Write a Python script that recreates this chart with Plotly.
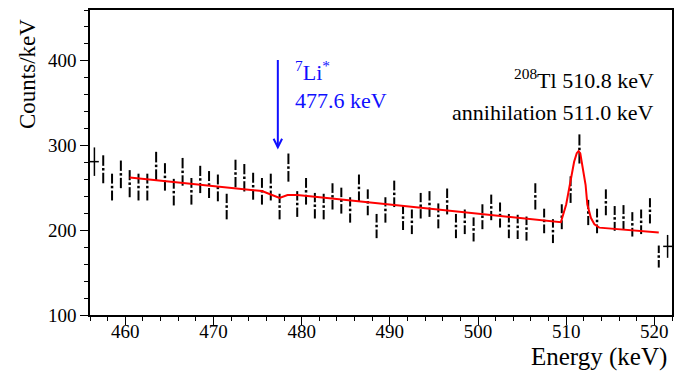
import plotly.graph_objects as go

# ---- data ----
bin_centers = [456.5, 457.5, 458.5, 459.5, 460.5, 461.5, 462.5, 463.5, 464.5, 465.5,
               466.5, 467.5, 468.5, 469.5, 470.5, 471.5, 472.5, 473.5, 474.5, 475.5,
               476.5, 477.5, 478.5, 479.5, 480.5, 481.5, 482.5, 483.5, 484.5, 485.5,
               486.5, 487.5, 488.5, 489.5, 490.5, 491.5, 492.5, 493.5, 494.5, 495.5,
               496.5, 497.5, 498.5, 499.5, 500.5, 501.5, 502.5, 503.5, 504.5, 505.5,
               506.5, 507.5, 508.5, 509.5, 510.5, 511.5, 512.5, 513.5, 514.5, 515.5,
               516.5, 517.5, 518.5, 519.5, 520.5, 521.5]
counts = [281, 272, 251, 266, 255, 251, 251, 276, 263, 245,
          269, 246, 260, 254, 250, 228, 267, 262, 252, 246,
          251, 228, 274, 231, 246, 229, 228, 240, 235, 224,
          250, 233, 205, 224, 243, 215, 210, 229, 231, 217,
          234, 205, 210, 201, 216, 227, 218, 205, 204, 202,
          240, 211, 199, 216, 248, 296, 221, 211, 233, 214,
          215, 207, 210, 223, 169, 181]
errors = [16.8, 16.5, 15.8, 16.3, 16.0, 15.8, 15.8, 16.6, 16.2, 15.7,
          16.4, 15.7, 16.1, 15.9, 15.8, 15.1, 16.3, 16.2, 15.9, 15.7,
          15.8, 15.1, 16.6, 15.2, 15.7, 15.1, 15.1, 15.5, 15.3, 15.0,
          15.8, 15.3, 14.3, 15.0, 15.6, 14.7, 14.5, 15.1, 15.2, 14.7,
          15.3, 14.3, 14.5, 14.2, 14.7, 15.1, 14.8, 14.3, 14.3, 14.2,
          15.5, 14.5, 14.1, 14.7, 15.7, 17.2, 14.9, 14.5, 15.3, 14.6,
          14.7, 14.4, 14.5, 14.9, 13.0, 13.5]
cross_points = [0, 65]          # bins drawn as full crosses
half_bin = 0.5

fit_energy = [460.5, 475.5, 476.5, 477.5, 478.4, 479.5, 481.5, 509.4, 510.0, 510.5,
              510.9, 511.2, 511.4, 511.6, 511.85, 512.2, 512.4, 512.8, 513.2, 513.75, 520.5]
fit_counts = [262.3, 246.3, 242.2, 238.2, 241.6, 241.7, 239.6, 209.5, 230.4, 257.6,
              280.9, 291.0, 293.4, 290.6, 277.0, 253.7, 230.4, 214.7, 207.0, 203.1, 197.3]

x_tick_vals = [460, 470, 480, 490, 500, 510, 520]
y_tick_vals = [100, 200, 300, 400]
x_range = [456, 522]
y_range = [100, 460]

li_energy = 477.3
li_arrow_top = 401
li_arrow_tip = 298

# ---- layout constants (page body has an 8 px margin) ----
W, H = 676, 364
ML, MR, MT, MB = 82, 12, 0, 57
plot_h = H - MT - MB
units_per_px = (y_range[1] - y_range[0]) / plot_h
gap = 3.5 * units_per_px
font_family = "Liberation Serif"

# error bar segments with a gap around the marker
seg_x, seg_y = [], []
cross_x, cross_y = [], []
dot_x, dot_y = [], []
for i, (e, c, s) in enumerate(zip(bin_centers, counts, errors)):
    if i in cross_points:
        cross_x += [e, e, None, e - half_bin, e + half_bin, None]
        cross_y += [c - s, c + s, None, c, c, None]
    else:
        seg_x += [e, e, None, e, e, None]
        seg_y += [c + gap, c + s, None, c - gap, c - s, None]
        dot_x.append(e)
        dot_y.append(c)

fig = go.Figure()
fig.add_trace(go.Scatter(x=seg_x, y=seg_y, mode="lines",
                         line=dict(color="black", width=2), hoverinfo="skip"))
fig.add_trace(go.Scatter(x=cross_x, y=cross_y, mode="lines",
                         line=dict(color="black", width=1.5), hoverinfo="skip"))
fig.add_trace(go.Scatter(x=dot_x, y=dot_y, mode="markers",
                         marker=dict(symbol="square", size=2.5, color="black",
                                     line=dict(width=0))))
fig.add_trace(go.Scatter(x=fit_energy, y=fit_counts, mode="lines",
                         line=dict(color="#ff0000", width=2)))

blue = "#1010ff"
fig.add_shape(type="line", x0=li_energy, x1=li_energy, y0=li_arrow_top, y1=li_arrow_tip,
              xref="x", yref="y", line=dict(color=blue, width=2))
fig.add_shape(type="path",
              path=f"M {li_energy-0.48},{li_arrow_tip+10} L {li_energy},{li_arrow_tip} L {li_energy+0.48},{li_arrow_tip+10}",
              xref="x", yref="y", line=dict(color=blue, width=2))

ann_font = dict(family=font_family, size=22)
fig.add_annotation(x=479.0, y=388, xref="x", yref="y", text="<sup>7</sup>Li<sup>*</sup>",
                   showarrow=False, xanchor="left", yanchor="middle",
                   font=dict(color=blue, **ann_font))
fig.add_annotation(x=479.0, y=353, xref="x", yref="y", text="477.6 keV",
                   showarrow=False, xanchor="left", yanchor="middle",
                   font=dict(color=blue, **ann_font))
fig.add_annotation(x=520.2, y=378, xref="x", yref="y", text="<sup>208</sup>Tl 510.8 keV",
                   showarrow=False, xanchor="right", yanchor="middle",
                   font=dict(color="black", **ann_font))
fig.add_annotation(x=520.2, y=339, xref="x", yref="y", text="annihilation 511.0 keV",
                   showarrow=False, xanchor="right", yanchor="middle",
                   font=dict(color="black", **ann_font))

# axis titles
fig.add_annotation(x=1, y=0, xref="paper", yref="paper", text="Energy (keV)",
                   showarrow=False, xanchor="right", yanchor="middle",
                   xshift=-3, yshift=-42, font=dict(family=font_family, size=25, color="black"))
fig.add_annotation(x=0, y=1, xref="paper", yref="paper", text="Counts/keV", textangle=-90,
                   showarrow=False, xanchor="center", yanchor="top",
                   xshift=-63, yshift=-7, font=dict(family=font_family, size=23, color="black"))

axis_common = dict(showgrid=False, zeroline=False, showline=True, mirror=True,
                   linecolor="black", linewidth=1.5, ticks="outside", ticklen=8,
                   tickwidth=1.2, tickcolor="black",
                   tickfont=dict(family=font_family, size=19, color="black"))
fig.update_xaxes(range=x_range, tickvals=x_tick_vals, ticklabelstandoff=-10,
                 minor=dict(dtick=2, tick0=460, ticks="outside", ticklen=4,
                            tickwidth=1.2, tickcolor="black", showgrid=False),
                 **axis_common)
fig.update_yaxes(range=y_range, tickvals=y_tick_vals,
                 minor=dict(dtick=20, tick0=100, ticks="outside", ticklen=4,
                            tickwidth=1.2, tickcolor="black", showgrid=False),
                 **axis_common)

fig.update_layout(width=W, height=H, margin=dict(l=ML, r=MR, t=MT, b=MB),
                  plot_bgcolor="white", paper_bgcolor="white", showlegend=False,
                  font=dict(family=font_family, color="black"))

fig.write_html("out.html")
